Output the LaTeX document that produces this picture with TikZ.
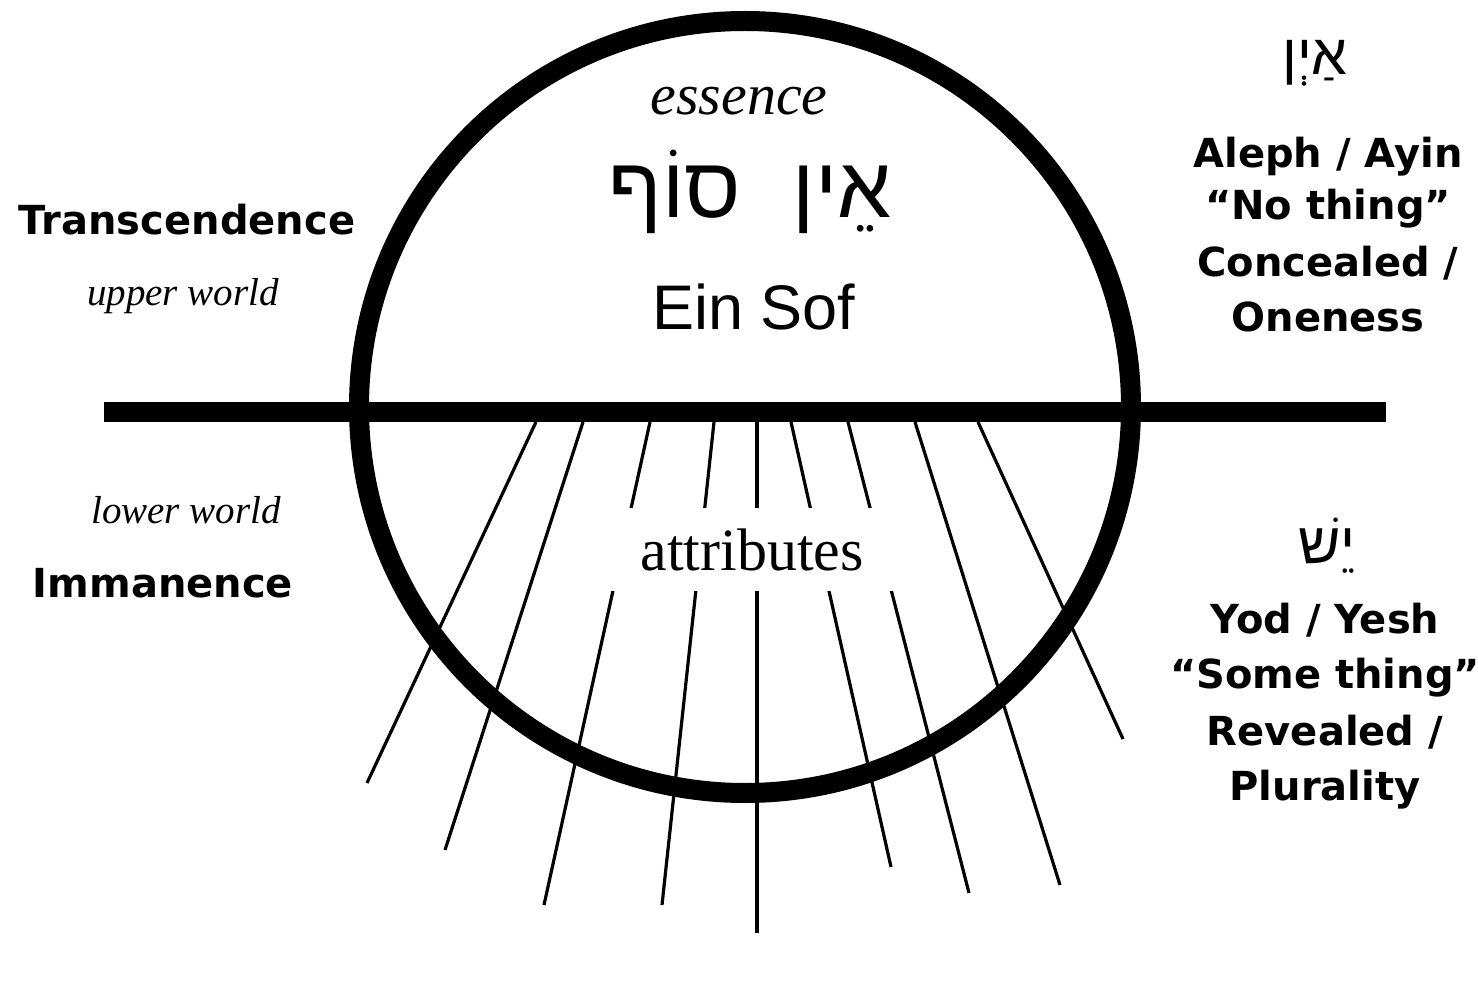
\documentclass[tikz,border=0pt]{standalone}
\usepackage{fontspec}
\setmainfont{Liberation Serif}
\newfontfamily\labelfont{DejaVu Sans}
\newfontfamily\einfont{Liberation Sans}
\newfontfamily\hebfont[Script=Hebrew]{Liberation Sans}
\TeXXeTstate=1
\usepackage{tikz}

\begin{document}
\begin{tikzpicture}[x=1pt, y=-1pt,
  sidelabel/.style={font=\labelfont\bfseries\fontsize{40}{48}\selectfont, anchor=base, inner sep=0pt},
  worldlabel/.style={font=\itshape\fontsize{39}{46}\selectfont, anchor=base, inner sep=0pt},
  hebrew/.style={anchor=base, inner sep=0pt}]
  \useasboundingbox (0,0) rectangle (1478,981);
  % rays
  \foreach \xa/\xb/\yb in {536/367/783, 583/445/850, 650/544/905, 714/662/905,
      757/757/933, 791/891/867, 848/969/893, 915/1060/885, 978/1123/739}{
    \draw[line width=3.2pt] (\xa,422) -- (\xb,\yb);
  }
  % circle and horizon
  \draw[line width=20pt] (745,407) circle[radius=386pt];
  \draw[line width=20pt] (104,412) -- (1386,412);
  % gap in the rays
  \node (attr) [fill=white, minimum width=325pt, minimum height=83pt, inner sep=0pt,
        font=\fontsize{60}{70}\selectfont] at (752,549.5) {attributes};
  % upper half
  \node (ess) [worldlabel, font=\itshape\fontsize{58}{66}\selectfont] at (739,115) {essence};
  \node (einsof-heb) [hebrew, font=\hebfont\fontsize{86}{92}\selectfont] at (750,218)
        {\beginR אֵין\hspace{28pt} סוֹף\endR};
  \node (einsof) [anchor=base, inner sep=0pt, font=\einfont\fontsize{63}{70}\selectfont]
        at (754,330) {Ein Sof};
  % left side
  \node (trans) [sidelabel] at (187,235) {Transcendence};
  \node (upper) [worldlabel] at (183,306) {upper world};
  \node (lower) [worldlabel] at (186,523) {lower world};
  \node (imman) [sidelabel] at (163,597) {Immanence};
  % right side
  \node (ayin-heb) [hebrew, font=\hebfont\fontsize{57}{64}\selectfont] at (1315,75)
        {\beginR אַיְן\endR};
  \foreach \txt/\y [count=\i] in {{Aleph / Ayin}/168, {“No thing”}/220,
      {Concealed /}/277, Oneness/332}
    \node (ayin-\i) [sidelabel] at (1328,\y) {\txt};
  \node (yesh-heb) [hebrew, font=\hebfont\fontsize{58}{64}\selectfont] at (1327,563)
        {\beginR יֵשׁ\endR};
  \foreach \txt/\y [count=\i] in {{Yod / Yesh}/633, {“Some thing”}/688,
      {Revealed /}/745, Plurality/800}
    \node (yesh-\i) [sidelabel] at (1325,\y) {\txt};
\end{tikzpicture}
\end{document}
